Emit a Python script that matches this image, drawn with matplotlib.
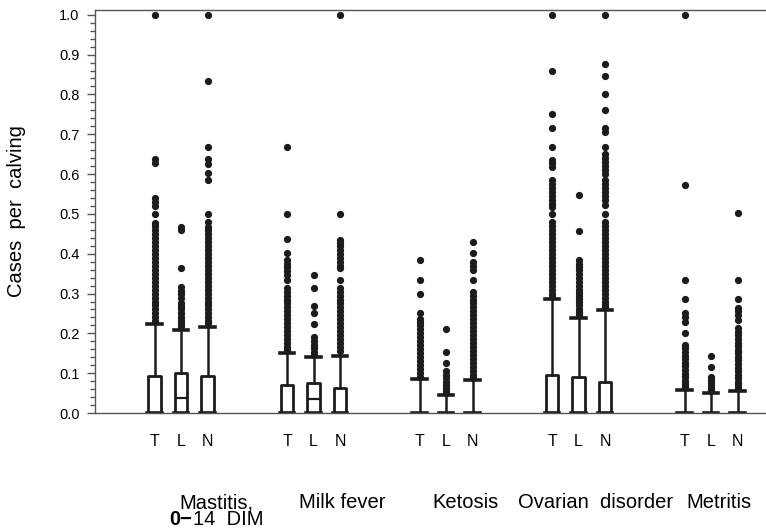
import numpy as np
import matplotlib.pyplot as plt
from matplotlib.ticker import MultipleLocator

plt.rcParams['font.family'] = ['Liberation Sans', 'DejaVu Sans']

# disease groups and the three herd types inside each group
groups = ["Mastitis,", "Milk fever", "Ketosis", "Ovarian  disorder", "Metritis"]
herds = ["T", "L", "N"]

# box stats per group (T, L, N): median, upper quartile, upper whisker
medians = [[0.0, 0.038, 0.0], [0.0, 0.035, 0.0], [0.0, 0.0, 0.0],
           [0.0, 0.0, 0.0], [0.0, 0.0, 0.0]]
q3 = [[0.093, 0.101, 0.093], [0.070, 0.076, 0.062], [0.0, 0.0, 0.0],
      [0.095, 0.090, 0.079], [0.0, 0.0, 0.0]]
whisk_hi = [[0.223, 0.208, 0.217], [0.150, 0.140, 0.144], [0.085, 0.045, 0.083],
            [0.286, 0.239, 0.259], [0.058, 0.051, 0.056]]

# outliers
mast_T = [1.0, 0.638, 0.628, 0.54, 0.53, 0.52, 0.5, 0.478, 0.47, 0.46, 0.45, 0.44,
          0.43, 0.42, 0.41, 0.40, 0.39, 0.38, 0.37, 0.36, 0.35, 0.34, 0.33, 0.32,
          0.31, 0.30, 0.29, 0.28, 0.27, 0.26, 0.25, 0.24, 0.23]
mast_L = [0.467, 0.46, 0.363, 0.317, 0.307, 0.298, 0.29, 0.276, 0.268, 0.26,
          0.25, 0.242, 0.234, 0.226, 0.218]
mast_N = [1.0, 0.834, 0.667, 0.638, 0.625, 0.602, 0.584, 0.5, 0.48, 0.468, 0.46,
          0.45, 0.44, 0.43, 0.42, 0.41, 0.40, 0.39, 0.38, 0.37, 0.36, 0.35, 0.34,
          0.33, 0.32, 0.31, 0.30, 0.29, 0.28, 0.27, 0.26, 0.25, 0.24, 0.23, 0.225]
milk_T = [0.667, 0.5, 0.438, 0.402, 0.384, 0.375, 0.367, 0.357, 0.346, 0.334,
          0.313, 0.305, 0.295, 0.285, 0.275, 0.265, 0.255, 0.245, 0.235, 0.225,
          0.215, 0.205, 0.195, 0.185, 0.175, 0.165, 0.157]
milk_L = [0.346, 0.313, 0.269, 0.25, 0.223, 0.19, 0.18, 0.17, 0.162, 0.153, 0.146]
milk_N = [1.0, 0.5, 0.434, 0.428, 0.42, 0.41, 0.40, 0.39, 0.38, 0.37, 0.364,
          0.334, 0.313, 0.305, 0.295, 0.285, 0.275, 0.265, 0.255, 0.245, 0.235,
          0.225, 0.215, 0.205, 0.195, 0.185, 0.175, 0.165, 0.155]
keto_T = [0.384, 0.334, 0.299, 0.25, 0.236, 0.228, 0.22, 0.21, 0.20, 0.19, 0.18,
          0.17, 0.16, 0.15, 0.14, 0.13, 0.12, 0.11, 0.10, 0.09]
keto_L = [0.21, 0.152, 0.125, 0.105, 0.095, 0.087, 0.079, 0.071, 0.063, 0.056, 0.05]
keto_N = [0.43, 0.401, 0.38, 0.37, 0.36, 0.334, 0.305, 0.295, 0.285, 0.275,
          0.265, 0.255, 0.245, 0.235, 0.225, 0.215, 0.205, 0.195, 0.185, 0.175,
          0.165, 0.155, 0.145, 0.135, 0.125, 0.115, 0.105, 0.095, 0.088]
ovar_T = [1.0, 0.859, 0.75, 0.716, 0.669, 0.635, 0.627, 0.618, 0.585, 0.575,
          0.565, 0.555, 0.545, 0.535, 0.525, 0.518, 0.5, 0.48, 0.47, 0.46, 0.45,
          0.44, 0.43, 0.42, 0.41, 0.40, 0.39, 0.38, 0.37, 0.36, 0.35, 0.34, 0.33,
          0.32, 0.31, 0.30, 0.292]
ovar_L = [0.547, 0.458, 0.384, 0.375, 0.367, 0.358, 0.348, 0.338, 0.328, 0.318,
          0.31, 0.302, 0.294, 0.286, 0.278, 0.27, 0.262, 0.254, 0.246]
ovar_N = [1.0, 0.876, 0.846, 0.8, 0.761, 0.715, 0.705, 0.669, 0.65, 0.64, 0.63,
          0.62, 0.61, 0.6, 0.585, 0.575, 0.565, 0.555, 0.545, 0.535, 0.522, 0.5,
          0.48, 0.47, 0.46, 0.45, 0.44, 0.43, 0.42, 0.41, 0.40, 0.39, 0.38, 0.37,
          0.36, 0.35, 0.34, 0.33, 0.32, 0.31, 0.30, 0.29, 0.28, 0.27, 0.265]
metr_T = [1.0, 0.572, 0.334, 0.286, 0.251, 0.242, 0.229, 0.202, 0.171, 0.162,
          0.153, 0.144, 0.135, 0.126, 0.117, 0.108, 0.099, 0.09, 0.081, 0.072, 0.065]
metr_L = [0.143, 0.116, 0.091, 0.083, 0.075, 0.067, 0.06, 0.055]
metr_N = [0.501, 0.334, 0.286, 0.264, 0.255, 0.245, 0.234, 0.213, 0.204, 0.195,
          0.186, 0.177, 0.168, 0.159, 0.15, 0.141, 0.132, 0.123, 0.114, 0.105,
          0.096, 0.087, 0.078, 0.07, 0.063]

outliers = [[mast_T, mast_L, mast_N], [milk_T, milk_L, milk_N],
            [keto_T, keto_L, keto_N], [ovar_T, ovar_L, ovar_N],
            [metr_T, metr_L, metr_N]]

ink = '#1c1c1c'
offsets = [-0.2, 0.0, 0.2]

stats, positions, labels = [], [], []
for g in range(len(groups)):
    for h in range(3):
        stats.append(dict(med=medians[g][h], q1=0.0, q3=q3[g][h], whislo=0.0,
                          whishi=whisk_hi[g][h], fliers=outliers[g][h]))
        positions.append(g + 1 + offsets[h])
        labels.append(herds[h])

fig = plt.figure(figsize=(7.66, 5.31), dpi=100)
ax = fig.add_axes([0.124, 0.2222, 0.876, 0.759])

ax.bxp(stats, positions=positions, widths=0.095, showfliers=True,
       boxprops=dict(color=ink, linewidth=2.0),
       medianprops=dict(color=ink, linewidth=1.6),
       whiskerprops=dict(color=ink, linewidth=1.8),
       capprops=dict(color=ink, linewidth=2.6),
       capwidths=0.11,
       flierprops=dict(marker='o', markerfacecolor=ink, markeredgecolor=ink,
                       markersize=4.2, linestyle='none'))

ax.set_xlim(0.35, 5.415)
ax.set_ylim(0, 1.012)
ax.set_xticks(positions)
ax.set_xticklabels(labels, fontsize=11.5)
ax.tick_params(axis='x', length=0, pad=15)

ax.yaxis.set_major_locator(MultipleLocator(0.1))
ax.yaxis.set_minor_locator(MultipleLocator(0.02))
ax.set_yticks(np.arange(0, 1.01, 0.1))
ax.set_yticklabels([f"{v:.1f}" for v in np.arange(0, 1.01, 0.1)], fontsize=10.5)
ax.tick_params(axis='y', which='major', length=6, width=1, color='#555555', pad=5)
ax.tick_params(axis='y', which='minor', length=3.5, width=1, color='#555555')

for side in ['left', 'top', 'bottom']:
    ax.spines[side].set_color('#555555')
    ax.spines[side].set_linewidth(1.0)
ax.spines['right'].set_visible(False)

ax.set_ylabel("Cases  per  calving", fontsize=14.5)
ax.yaxis.set_label_coords(-0.103, 0.5)

# group names under the herd letters
trans = ax.get_xaxis_transform()
name_x = [0.985, 1.89, 2.894, 3.543, 4.811]
for x, name in zip(name_x, groups):
    ax.text(x, -0.236, name, transform=trans, fontsize=14.5, ha='left', va='baseline')
ax.text(0.91, -0.278, "0\u2212", transform=trans, fontsize=14.5, fontweight='bold',
        ha='left', va='baseline')
ax.text(1.09, -0.278, "14  DIM", transform=trans, fontsize=14.5, ha='left', va='baseline')

fig.savefig("out.png", dpi=100)
